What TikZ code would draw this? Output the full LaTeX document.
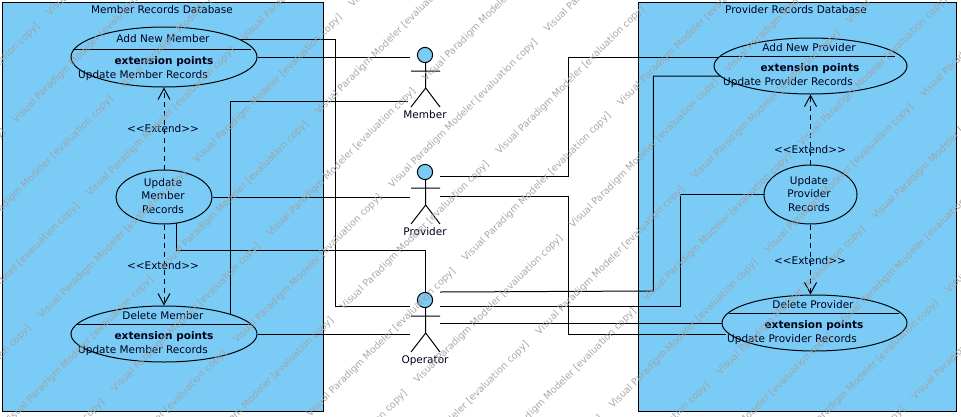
\documentclass[tikz,border=0pt]{standalone}
\usepackage{fontspec}
\setmainfont{DejaVu Sans}
\usetikzlibrary{shapes.geometric,arrows.meta}
\definecolor{vpblue}{RGB}{122,204,247}
\definecolor{wmgray}{RGB}{160,160,160}
\tikzset{
  dbbox/.style={draw=black,fill=vpblue,line width=1pt},
  usecase/.style={draw=black,fill=vpblue,ellipse,line width=1pt,inner sep=0pt},
  mlbl/.style={inner sep=0pt,font=\fontsize{10.5}{13}\selectfont,text=black!90!blue},
  lbl/.style={mlbl,text height=10pt,text depth=2pt},
  bold/.style={lbl,font=\fontsize{10.5}{13}\selectfont\bfseries},
  conn/.style={draw=black,line width=1pt},
  ext/.style={draw=black,line width=1pt,dash pattern=on 5pt off 4pt,-{Straight Barb[length=11pt,width=12pt,line width=1pt]}},
  actorbox/.style={inner sep=0pt,minimum width=30pt,minimum height=60pt},
  wm/.style={inner sep=0pt,anchor=base west,rotate=45,text=wmgray,opacity=.9,font=\fontsize{9.6}{11}\selectfont},
}
\newcommand{\stick}[2]{%
  \draw[line width=1pt,fill=vpblue] (#1,#2) circle (7.6pt);
  \draw[line width=1pt] (#1+.7,#2+7.6) -- (#1+.7,#2+33) (#1-14,#2+16) -- (#1+15,#2+16)
    (#1-14,#2+52) -- (#1+.7,#2+33) -- (#1+15,#2+52);
}
\begin{document}
\begin{tikzpicture}[x=1pt,y=-1pt]
\useasboundingbox (0,0) rectangle (961,416);
\clip (0,0) rectangle (961,416);
\fill[white] (0,0) rectangle (961,416);
% databases
\node[dbbox,inner sep=0pt,minimum width=320.6pt,minimum height=408.3pt] (memberdb) at (163,206.85) {};
\node[dbbox,inner sep=0pt,minimum width=317.7pt,minimum height=408.3pt] (providerdb) at (797.2,206.85) {};
\node[lbl] (memberdbT) at (162,9.5) {Member Records Database};
\node[lbl] (providerdbT) at (796,9.5) {Provider Records Database};
% use cases
\node[usecase,minimum width=186pt,minimum height=60pt] (am) at (164,57) {};
\node[usecase,minimum width=96pt,minimum height=54pt] (um) at (164,197) {};
\node[usecase,minimum width=186pt,minimum height=56pt] (dm) at (164,334) {};
\node[usecase,minimum width=193pt,minimum height=56pt] (ap) at (810.5,66) {};
\node[usecase,minimum width=93pt,minimum height=59pt] (up) at (810.5,194.5) {};
\node[usecase,minimum width=185pt,minimum height=56pt] (dp) at (814.5,323) {};
% compartment lines
\draw[conn] (73,49.5) -- (251,49.5) (77,324.3) -- (251,324.3) (720,56.7) -- (895,56.7) (728.5,313) -- (899,313);
% use case text
\node[lbl] (amT) at (163,38) {Add New Member};
\node[bold] (amE) at (164,60) {extension points};
\node[lbl] (amU) at (143,74) {Update Member Records};
\node[lbl] (dmT) at (163,315) {Delete Member};
\node[bold] (dmE) at (164,335) {extension points};
\node[lbl] (dmU) at (143,349) {Update Member Records};
\node[mlbl,align=center] (umT) at (163,196) {Update\\[.8pt]Member\\[.8pt]Records};
\node[lbl] (apT) at (809,47) {Add New Provider};
\node[bold] (apE) at (810,67) {extension points};
\node[lbl] (apU) at (788,81) {Update Provider Records};
\node[lbl] (dpT) at (813,304) {Delete Provider};
\node[bold] (dpE) at (814,324) {extension points};
\node[lbl] (dpU) at (792,338) {Update Provider Records};
\node[mlbl,align=center] (upT) at (809,194) {Update\\[.8pt]Provider\\[.8pt]Records};
% actors
\node[actorbox] (member) at (425,78) {};
\node[actorbox] (provider) at (425,195) {};
\node[actorbox] (operator) at (425,322) {};
\stick{425}{55}
\stick{425}{172}
\stick{425}{300}
\node[lbl] (memberT) at (425,114) {Member};
\node[lbl] (providerT) at (425,231) {Provider};
\node[lbl] (operatorT) at (425,359) {Operator};
% connector routing points
\coordinate (amTop) at (240,39.3);
\coordinate (dmTop) at (230,314);
\coordinate (umLow) at (176.3,223);
\coordinate (opHead) at (425.7,292);
\coordinate (apIn) at (720.6,76);
\coordinate (dpIn) at (726,334.3);
\coordinate (opW) at (409.5,306);
\coordinate (opE) at (440,306);
\coordinate (opE1) at (440,292);
\coordinate (opE2) at (440,323.3);
\coordinate (opW2) at (409.5,334.3);
\coordinate (memW1) at (409.5,57.3);
\coordinate (memW2) at (408,101.3);
\coordinate (prW) at (409.5,196.3);
\coordinate (prE1) at (440,176.3);
\coordinate (prE2) at (440,196.3);
\coordinate (apTop) at (718,57);
% connectors
\draw[conn] (amTop) -- (335.3,39.3) -- (335.3,306) -- (opW);
\draw[conn] (am.east) -- (am.east -| memW1);
\draw[conn] (dmTop) -- (230,101.3) -- (memW2);
\draw[conn] (um.east) -- (um.east -| prW);
\draw[conn] (umLow) -- (176.3,250.3) -- (425.7,250.3) -- (opHead);
\draw[conn] (dm.east) -- (dm.east -| opW2);
\draw[conn] (prE1) -- (568.7,176.3) -- (568.7,57) -- (apTop);
\draw[conn] (prE2) -- (568.7,196.3) -- (568.7,334.3) -- (dpIn);
\draw[conn] (opE1) -- (653.3,291) -- (653.3,76) -- (apIn);
\draw[conn] (opE) -- (680.7,306) -- (680.7,194.5) -- (up.west);
\draw[conn] (opE2) -- (dp.west |- opE2);
% extends
\draw[ext] (um.north) -- (am.south);
\draw[ext] (um.south) -- (dm.north);
\draw[ext] (up.north) -- (ap.south);
\draw[ext] (up.south) -- (up.south |- dp.north);
\node[lbl] (e1) at (163,128) {<{}<Extend>{}>};
\node[lbl] (e2) at (163,265) {<{}<Extend>{}>};
\node[lbl] (e3) at (810,149) {<{}<Extend>{}>};
\node[lbl] (e4) at (810,260) {<{}<Extend>{}>};
% watermark
\foreach \i in {-1,...,9} {
  \foreach \j in {-1,...,4} {
    \pgfmathsetmacro{\sa}{66.5+147*\i}
    \pgfmathsetmacro{\da}{277.5-311*\j}
    \pgfmathsetmacro{\sb}{139.5+147*\i}
    \pgfmathsetmacro{\db}{107-311*\j}
    \node[wm] (wa\i c\j) at ({(\sa-\da)/2},{(\sa+\da)/2}) {Visual Paradigm Modeler [evaluation copy]};
    \node[wm] (wb\i c\j) at ({(\sb-\db)/2},{(\sb+\db)/2}) {Visual Paradigm Modeler [evaluation copy]};
  }
}
\end{tikzpicture}
\end{document}
